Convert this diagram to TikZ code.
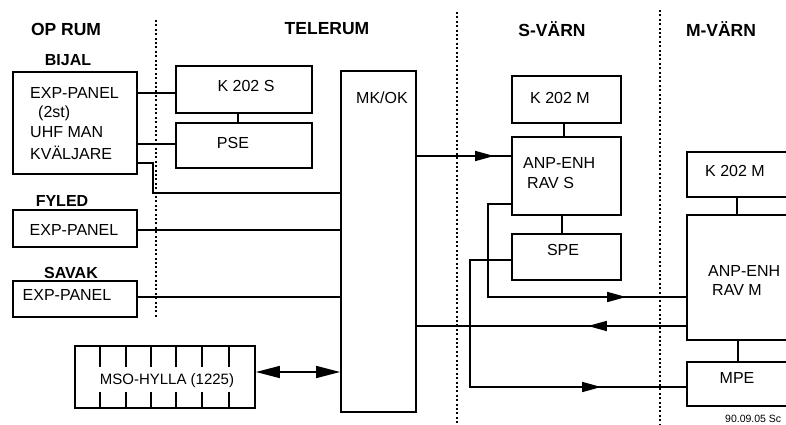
\documentclass[tikz,border=0pt]{standalone}
\usepackage{fontspec}
\setmainfont{Liberation Sans}
\usetikzlibrary{arrows.meta,decorations.markings}
\begin{document}
\begin{tikzpicture}[x=1pt,y=-1pt,
  box/.style={draw,line width=1.8pt,rectangle,inner sep=0pt},
  wire/.style={line width=1.6pt},
  sepline/.style={line width=2.8pt,dash pattern=on 2pt off 2.4pt},
  hd/.style={font=\fontsize{17.5}{20}\selectfont\bfseries},
  sub/.style={font=\fontsize{16}{19}\selectfont\bfseries},
  txt/.style={font=\fontsize{16}{19}\selectfont,inner sep=0pt},
  midarrow/.style={postaction={decorate},decoration={markings,mark=at position #1 with {\arrow{Triangle[length=19pt,width=10pt]}}}},
  bigtip/.tip={Triangle[length=24pt,width=12pt]}
]
\useasboundingbox (0,0) rectangle (786,425);
\clip (0,0) rectangle (786,425);
\fill[white] (0,0) rectangle (786,425);

% separators
\draw[sepline] (156,20) -- (156,318);
\draw[sepline] (457,12) -- (457,425);
\draw[sepline] (660,10) -- (660,425);

% headings
\node[hd] (h1) at (66,29) {OP RUM};
\node[hd] (h2) at (327,29) {TELERUM};
\node[hd] (h3) at (552,29) {S-VÄRN};
\node[hd] (h4) at (721,29) {M-VÄRN};
\node[sub] (s1) at (68,60) {BIJAL};
\node[sub] (s2) at (62,201) {FYLED};
\node[sub] (s3) at (71,273) {SAVAK};

% boxes
\node[box,minimum width=124,minimum height=102] (bijal) at (75,123) {};
\node[box,minimum width=136,minimum height=47] (k202s) at (244,89.5) {};
\node[box,minimum width=136,minimum height=45] (pse) at (244,145.5) {};
\node[box,minimum width=75,minimum height=341] (mkok) at (378.5,241.5) {};
\node[box,minimum width=124,minimum height=37] (fyled) at (75,228.5) {};
\node[box,minimum width=124,minimum height=36] (savak) at (75,299) {};
\node[box,minimum width=180,minimum height=62] (mso) at (165,377) {};
\node[box,minimum width=109,minimum height=47] (k202ms) at (566.5,99.5) {};
\node[box,minimum width=109,minimum height=78] (anps) at (566.5,176) {};
\node[box,minimum width=109,minimum height=46] (spe) at (566.5,257) {};
\node[box,minimum width=123,minimum height=45] (k202mm) at (748.5,174.5) {};
\node[box,minimum width=123,minimum height=125] (anpm) at (748.5,277.5) {};
\node[box,minimum width=123,minimum height=44] (mpe) at (748.5,384) {};

% MSO shelf slots
\foreach \sx in {100,126,151,176,202,229}{
  \draw[wire] (\sx,346) -- (\sx,367);
  \draw[wire] (\sx,392) -- (\sx,408);
}

% texts in boxes
\node[txt,anchor=west] (t1) at (30,93) {EXP-PANEL};
\node[txt,anchor=west] (t2) at (38,113) {(2st)};
\node[txt,anchor=west] (t3) at (30,132) {UHF MAN};
\node[txt,anchor=west] (t4) at (30,153) {KVÄLJARE};
\node[txt] (t5) at (246,86) {K 202 S};
\node[txt] (t6) at (233,143) {PSE};
\node[txt] (t7) at (382,98) {MK/OK};
\node[txt] (t8) at (74,230) {EXP-PANEL};
\node[txt] (t9) at (67,295) {EXP-PANEL};
\node[txt,font=\fontsize{15}{18}\selectfont] (t10) at (167,381) {MSO-HYLLA (1225)};
\node[txt] (t11) at (560,98) {K 202 M};
\node[txt,anchor=west] (t12) at (523,163) {ANP-ENH};
\node[txt,anchor=west] (t13) at (527,183) {RAV S};
\node[txt] (t14) at (563,250) {SPE};
\node[txt] (t15) at (735,171) {K 202 M};
\node[txt,anchor=west] (t16) at (708,271) {ANP-ENH};
\node[txt,anchor=west] (t17) at (712,290) {RAV M};
\node[txt] (t18) at (737,378) {MPE};
\node[anchor=base west,font=\fontsize{10.5}{12}\selectfont,inner sep=0pt] (date) at (725,422) {90.09.05 Sc};

% connectors
\draw[wire] (bijal.east |- 0,93) -- (k202s.west |- 0,93);
\draw[wire] (bijal.east |- 0,144) -- (pse.west |- 0,144);
\draw[wire] (bijal.east |- 0,163) -| (153,193) -- (mkok.west |- 0,193);
\draw[wire] (k202s.south -| 238,0) -- (pse.north -| 238,0);
\draw[wire] (fyled.east |- 0,230) -- (mkok.west |- 0,230);
\draw[wire] (savak.east |- 0,297) -- (mkok.west |- 0,297);
\draw[wire,bigtip-bigtip] (mso.east |- 0,372) -- (mkok.west |- 0,372);
\draw[wire,midarrow=-17pt] (mkok.east |- 0,156) -- (anps.west |- 0,156);
\draw[wire] (k202ms.south -| 564,0) -- (anps.north -| 564,0);
\draw[wire] (anps.south -| 562,0) -- (spe.north -| 562,0);
\draw[wire,midarrow=-60pt] (anps.west |- 0,204) -- (488,204) -- (488,297) -- (anpm.west |- 0,297);
\draw[wire,midarrow=-171pt] (anpm.west |- 0,326) -- (mkok.east |- 0,326);
\draw[wire,midarrow=-85pt] (spe.west |- 0,260) -- (470,260) -- (470,387) -- (mpe.west |- 0,387);
\draw[wire] (k202mm.south -| 737,0) -- (anpm.north -| 737,0);
\draw[wire] (anpm.south -| 738,0) -- (mpe.north -| 738,0);
\end{tikzpicture}
\end{document}
